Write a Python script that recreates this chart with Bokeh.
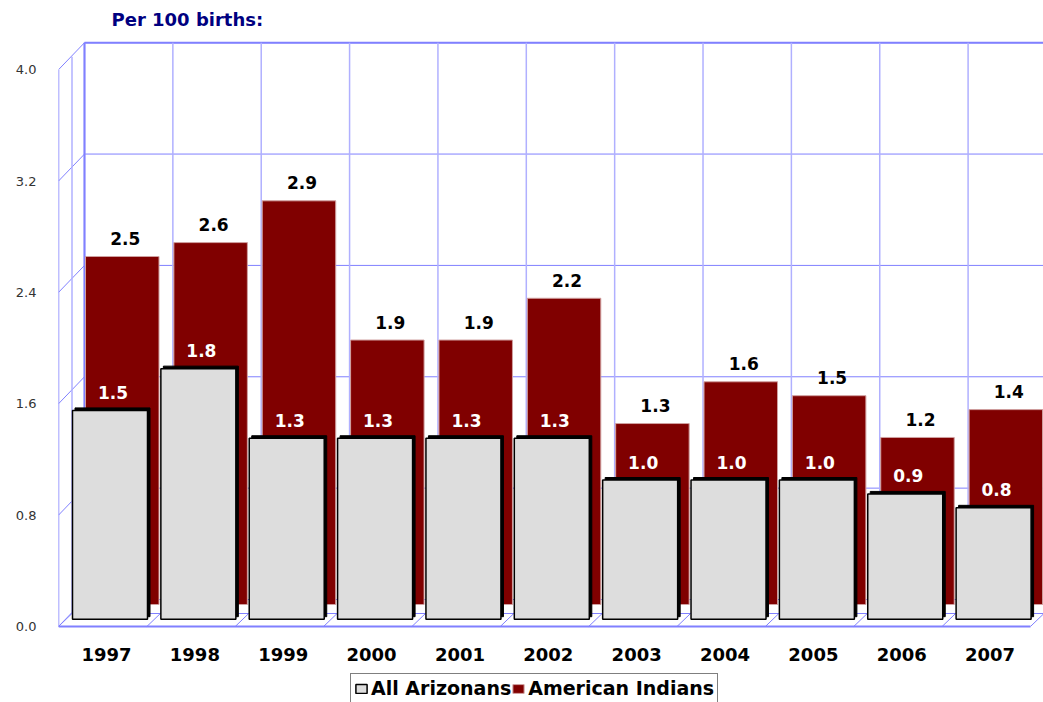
import numpy as np
from bokeh.plotting import figure
from bokeh.models import (Range1d, FixedTicker, PrintfTickFormatter, Legend, LegendItem)
from bokeh.core.properties import value
from bokeh.embed import file_html
from bokeh.resources import INLINE

# ---- data ----
years = ["1997", "1998", "1999", "2000", "2001", "2002", "2003", "2004", "2005", "2006", "2007"]
all_arizonans = [1.5, 1.8, 1.3, 1.3, 1.3, 1.3, 1.0, 1.0, 1.0, 0.9, 0.8]
american_indians = [2.5, 2.6, 2.9, 1.9, 1.9, 2.2, 1.3, 1.6, 1.5, 1.2, 1.4]
y_ticks = [0.0, 0.8, 1.6, 2.4, 3.2, 4.0]
title_text = "Per 100 births:"

# ---- geometry (pixel scale of the data axes) ----
PX_X = 88.36   # pixels per category
PX_Y = 139.2   # pixels per unit
FRAME_W = 985
FRAME_H = 668
BELOW_PX = 77   # frame space below the value 0 line


def dxu(px):
    return px / PX_X


def dyu(px):
    return px / PX_Y


n = len(years)
idx = np.arange(n)
ai = np.array(american_indians)
az = np.array(all_arizonans)
yt = np.array(y_ticks)
ymax = max(y_ticks)

BACK_DX, BACK_DY = dxu(26), dyu(27)
MID_DX, MID_DY = dxu(13.5), dyu(13)
GRAY_DY, GRAY_W = dyu(7.3), dxu(75)
RED_DY, RED_W = dyu(22), dxu(73.5)
gray_c = idx + dxu(14 + 37.5)
red_c = idx + dxu(27 + 36.75)

GRID = "#8080ff"
GRID_L = "#b0b0ff"
FONT = "DejaVu Sans"

p = figure(frame_width=FRAME_W, frame_height=FRAME_H,
           x_range=Range1d(0, FRAME_W / PX_X),
           y_range=Range1d(-dyu(BELOW_PX), (FRAME_H - BELOW_PX) / PX_Y),
           output_backend="svg", toolbar_location=None,
           min_border_left=58, min_border_right=0, min_border_top=34, min_border_bottom=0)
p.xgrid.visible = False
p.ygrid.visible = False
p.xaxis.visible = False
p.outline_line_color = None
p.background_fill_color = "white"

# ---- back wall ----
p.segment(x0=BACK_DX, x1=n + BACK_DX + 1, y0=yt + BACK_DY, y1=yt + BACK_DY,
          line_color=GRID, line_width=1)
p.segment(x0=BACK_DX, x1=n + BACK_DX + 1, y0=ymax + BACK_DY, y1=ymax + BACK_DY,
          line_color=GRID, line_width=2)
kk = np.arange(n + 1)
p.segment(x0=kk + BACK_DX, x1=kk + BACK_DX, y0=BACK_DY, y1=ymax + BACK_DY,
          line_color=GRID_L, line_width=1.5)
p.segment(x0=[BACK_DX], x1=[BACK_DX], y0=[BACK_DY], y1=[ymax + BACK_DY],
          line_color=GRID, line_width=2)

# ---- side wall ----
p.segment(x0=0, x1=BACK_DX, y0=yt, y1=yt + BACK_DY, line_color=GRID, line_width=1)
p.segment(x0=[MID_DX], x1=[MID_DX], y0=[MID_DY], y1=[ymax + MID_DY],
          line_color=GRID_L, line_width=1.5)
p.segment(x0=[0], x1=[0], y0=[0], y1=[ymax], line_color=GRID, line_width=1.5)

# ---- floor ----
p.segment(x0=[0], x1=[n], y0=[0], y1=[0], line_color=GRID, line_width=2)
p.segment(x0=[MID_DX], x1=[n + MID_DX], y0=[MID_DY], y1=[MID_DY], line_color=GRID, line_width=1)
p.segment(x0=kk, x1=kk + MID_DX, y0=0, y1=MID_DY, line_color=GRID, line_width=1)

# ---- bars ----
red_r = p.vbar(x=red_c, width=RED_W, bottom=RED_DY, top=ai + RED_DY,
               fill_color="#800000", line_color="#d0a0a0", line_width=1)
p.vbar(x=gray_c + dxu(2.5), width=GRAY_W, bottom=GRAY_DY + dyu(2.5), top=az + GRAY_DY + dyu(2.5),
       fill_color="black", line_color="black")
gray_r = p.vbar(x=gray_c, width=GRAY_W, bottom=GRAY_DY, top=az + GRAY_DY,
                fill_color="#dddddd", line_color="black", line_width=1.5)

# ---- value labels ----
p.text(x=red_c + dxu(3), y=ai + RED_DY + dyu(18), text=[f"{v:.1f}" for v in american_indians],
       text_align="center", text_baseline="alphabetic", text_color="black",
       text_font=value(FONT), text_font_style="bold", text_font_size="17px")
p.text(x=gray_c + dxu(3), y=az + GRAY_DY + dyu(18), text=[f"{v:.1f}" for v in all_arizonans],
       text_align="center", text_baseline="alphabetic", text_color="white",
       text_font=value(FONT), text_font_style="bold", text_font_size="17px")

# ---- category labels (x axis) ----
p.text(x=idx + dxu(48), y=-dyu(28), text=years,
       text_align="center", text_baseline="alphabetic", text_color="black",
       text_font=value(FONT), text_font_style="bold", text_font_size="18px")

# ---- y axis ----
ya = p.yaxis[0]
ya.ticker = FixedTicker(ticks=y_ticks)
ya.formatter = PrintfTickFormatter(format="%.1f")
ya.axis_line_color = None
ya.major_tick_line_color = None
ya.minor_tick_line_color = None
ya.major_tick_out = 0
ya.major_tick_in = 0
ya.major_label_standoff = 22
ya.major_label_text_font = FONT
ya.major_label_text_font_size = "13px"
ya.major_label_text_color = "#333333"

# ---- title ----
p.title.text = title_text
p.title.text_font = FONT
p.title.text_font_size = "18px"
p.title.text_font_style = "bold"
p.title.text_color = "#000080"
p.title.align = "left"
p.title.offset = 48
p.title.padding = 5
p.title.standoff = 2

# ---- legend ----
legend = Legend(items=[LegendItem(label="All Arizonans", renderers=[gray_r]),
                       LegendItem(label="American Indians", renderers=[red_r])],
                orientation="horizontal", location=(292, 0),
                border_line_color="black", border_line_width=1, background_fill_color="white",
                label_text_font=FONT, label_text_font_style="bold", label_text_font_size="19px",
                label_text_color="black",
                glyph_width=14, glyph_height=11, label_standoff=3, spacing=0,
                padding=3, margin=0)
p.add_layout(legend, "center")

open("out.html", "w").write(file_html(p, INLINE))
